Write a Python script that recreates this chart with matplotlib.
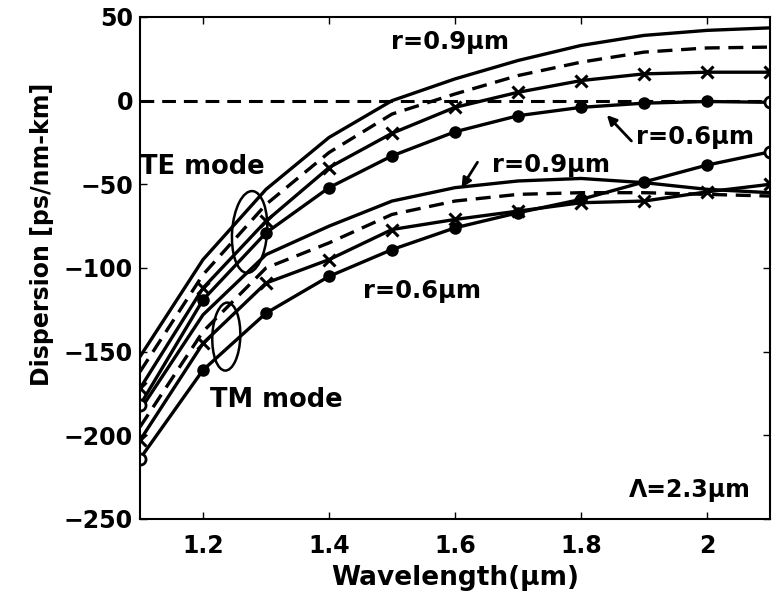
import matplotlib
matplotlib.use("Agg")
import matplotlib.pyplot as plt
from matplotlib.patches import Ellipse
from matplotlib.transforms import ScaledTranslation

plt.rcParams['font.family'] = ['DejaVu Sans']
plt.rcParams['font.weight'] = 'bold'

wavelength = [1.1, 1.2, 1.3, 1.4, 1.5, 1.6, 1.7, 1.8, 1.9, 2.0, 2.1]

# TE mode
te_r09 = [-153, -95, -53, -22, 0, 13, 24, 33, 39, 42, 43.5]
te_dash = [-162, -104, -62, -31, -8, 4, 15, 23, 29, 31.5, 32]
te_x = [-172, -112, -72, -40, -19.5, -4, 5, 12, 16, 17, 17]
te_o = [-182, -119, -79, -52, -33, -18.6, -9, -4, -1.5, -0.5, -1]

# TM mode
tm_r09 = [-185, -128, -92, -75, -60, -52, -48, -46.5, -49, -53, -55]
tm_dash = [-195, -138, -100, -85, -68, -60, -56, -55, -55, -56, -57]
tm_x = [-203, -145, -109, -95, -77, -71, -66, -61, -60, -54.5, -50]
tm_o = [-214, -161, -127, -105, -89, -76, -67, -59, -48.6, -38.5, -30.6]

zero_x = [1.1, 2.1]
zero_y = [0, 0]

xticks = [1.2, 1.4, 1.6, 1.8, 2.0]
xticklabels = ['1.2', '1.4', '1.6', '1.8', '2']
yticks = [-250, -200, -150, -100, -50, 0, 50]

fig = plt.figure(figsize=(7.79, 5.96), dpi=100)
ax = fig.add_axes([0.1797, 0.1292, 0.8088, 0.8423])
ax.set_xlim(1.1, 2.1)
ax.set_ylim(-250, 50)

lw = 2.4
dsh = (4.5, 2.6)
ax.plot(zero_x, zero_y, 'k--', lw=2.2, dashes=dsh)
for s in (te_r09, tm_r09):
    ax.plot(wavelength, s, 'k-', lw=lw)
for s in (te_dash, tm_dash):
    ax.plot(wavelength, s, 'k--', lw=lw, dashes=dsh)
for s in (te_x, tm_x):
    ax.plot(wavelength, s, 'k-', lw=lw, marker='x', ms=9, mew=2.2)
for s in (te_o, tm_o):
    ax.plot(wavelength, s, 'k-', lw=lw, marker='o', ms=8, mfc='k',
            markevery=list(range(1, len(wavelength) - 1)))
    ax.plot([wavelength[0], wavelength[-1]], [s[0], s[-1]], ls='none',
            marker='o', ms=8, mfc='white', mec='k', mew=2)

# mode ellipses (size in pixels, centred at data points)
ax.add_patch(Ellipse((0, 0), 35, 82, angle=-4, fill=False, lw=1.8, ec='k',
                     transform=ScaledTranslation(1.274, -78.5, ax.transData)))
ax.add_patch(Ellipse((0, 0), 28, 68, angle=-2, fill=False, lw=1.8, ec='k',
                     transform=ScaledTranslation(1.237, -141, ax.transData)))

fs = 17.5
ax.text(1.592, 35, 'r=0.9μm', fontsize=fs, fontweight='bold', ha='center', va='center')
ax.text(1.1, -39.7, 'TE mode', fontsize=18.5, fontweight='bold', ha='left', va='center')
ax.text(1.211, -179, 'TM mode', fontsize=18.5, fontweight='bold', ha='left', va='center')
ax.text(1.454, -114, 'r=0.6μm', fontsize=fs, fontweight='bold', ha='left', va='center')
ax.text(1.659, -38.4, 'r=0.9μm', fontsize=fs, fontweight='bold', ha='left', va='center')
ax.text(1.888, -21.7, 'r=0.6μm', fontsize=fs, fontweight='bold', ha='left', va='center')
ax.text(1.876, -232.7, 'Λ=2.3μm', fontsize=17, fontweight='bold', ha='left', va='center')

ax.annotate('', xy=(1.838, -7.4), xytext=(1.883, -25.3),
            arrowprops=dict(arrowstyle='-|>', color='k', lw=2, mutation_scale=14))
ax.annotate('', xy=(1.608, -53.4), xytext=(1.638, -35.4),
            arrowprops=dict(arrowstyle='-|>', color='k', lw=2, mutation_scale=14))

ax.set_xticks(xticks)
ax.set_xticklabels(xticklabels)
ax.set_yticks(yticks)
ax.tick_params(direction='in', length=5, width=1, top=True, right=True,
               labelsize=17)
ax.tick_params(axis='x', pad=11)
ax.tick_params(axis='y', pad=5)
for lab in ax.get_xticklabels() + ax.get_yticklabels():
    lab.set_fontweight('bold')
for sp in ax.spines.values():
    sp.set_linewidth(1.5)

ax.set_xlabel('Wavelength(μm)', fontsize=19, fontweight='bold', labelpad=5)
ax.set_ylabel('Dispersion [ps/nm-km]', fontsize=17, fontweight='bold')
ax.yaxis.set_label_coords(-0.137, 0.566)

fig.savefig('out.png', dpi=100)
